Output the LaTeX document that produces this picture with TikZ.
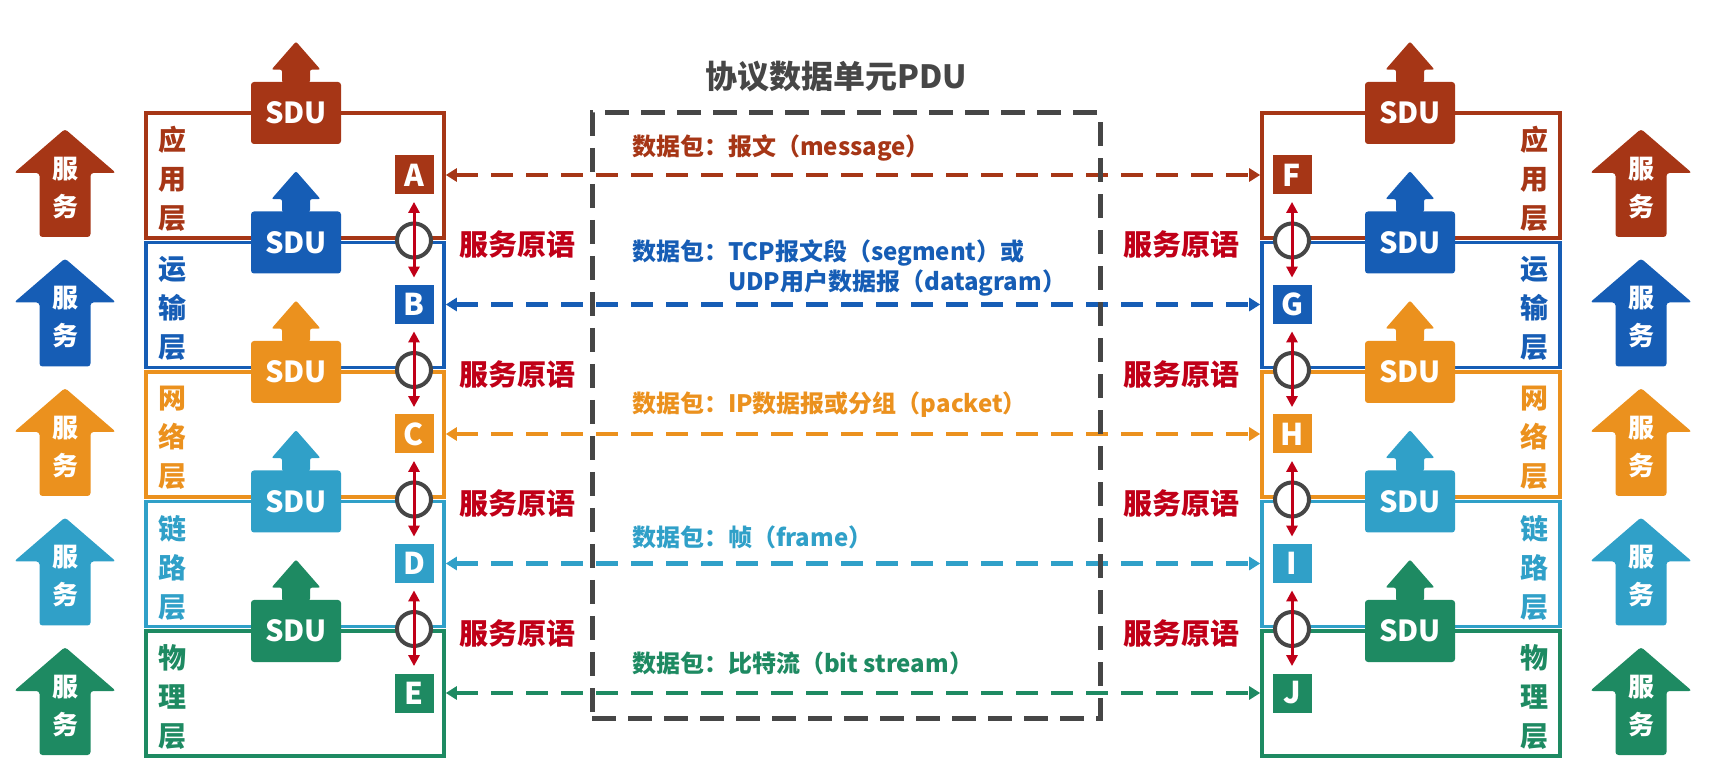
\documentclass[tikz,border=0pt]{standalone}
\usepackage{fontspec}
\setmainfont{Noto Sans CJK SC}
\usetikzlibrary{arrows.meta,positioning,calc}

\definecolor{appc}{RGB}{166,54,22}
\definecolor{tranc}{RGB}{22,93,181}
\definecolor{netc}{RGB}{235,145,30}
\definecolor{linkc}{RGB}{48,160,200}
\definecolor{phyc}{RGB}{30,138,98}
\definecolor{primc}{RGB}{192,0,24}
\definecolor{pduc}{RGB}{70,70,70}

\begin{document}
\begin{tikzpicture}[x=0.5pt, y=-0.5pt,
    layerbox/.style={draw, line width=1.8pt, minimum width=149pt, minimum height=62.5pt, inner sep=0pt},
    sdubox/.style={rounded corners=1.5pt, minimum width=45pt, minimum height=31pt, inner sep=0pt,
                   text=white, font=\fontsize{14.5pt}{16pt}\selectfont\bfseries},
    peer/.style={minimum size=19.5pt, inner sep=0pt, text=white, font=\fontsize{15pt}{16pt}\selectfont\bfseries},
    jn/.style={circle, draw=pduc, line width=2pt, fill=white, minimum size=17pt, inner sep=0pt},
    layername/.style={align=center, font=\fontsize{14pt}{19.5pt}\selectfont\bfseries},
    svcname/.style={align=center, text=white, font=\fontsize{13pt}{19pt}\selectfont\bfseries},
    primlbl/.style={text=primc, font=\fontsize{14.5pt}{16pt}\selectfont\bfseries},
    datalbl/.style={anchor=west, align=left, font=\fontsize{12pt}{15pt}\selectfont\bfseries},
    pduarr/.style={{Triangle[length=5.5pt,width=6.5pt]}-{Triangle[length=5.5pt,width=6.5pt]}, line width=2.2pt,
                   dash pattern=on 11pt off 6.5pt},
    prim/.style={{Triangle[length=5.5pt,width=5.5pt]}-{Triangle[length=5.5pt,width=5.5pt]}, line width=1.5pt,
                 draw=primc, shorten <=3.5pt, shorten >=3.5pt}]
  \useasboundingbox (0,0) rectangle (1724,774);
  % one row per layer, left host and right host
  \foreach \i/\col/\lname/\lp/\rp in {0/appc/{应\\用\\层}/A/F, 1/tranc/{运\\输\\层}/B/G,
      2/netc/{网\\络\\层}/C/H, 3/linkc/{链\\路\\层}/D/I, 4/phyc/{物\\理\\层}/E/J}{
    \pgfmathsetmacro\T{113+129.5*\i}
    \pgfmathsetmacro\S{129+129.5*\i}
    \node[layerbox, draw=\col] (LB\i) at (295,\T+62.5) {};
    \node[layerbox, draw=\col] (RB\i) at (1411,\T+62.5) {};
    \node[layername, text=\col] (NL\i) at (172,\T+66) {\lname};
    \node[layername, text=\col] (NR\i) at (1534,\T+66) {\lname};
    % SDU passed up
    \node[sdubox, fill=\col] (DL\i) at (296,\T) {SDU};
    \node[sdubox, fill=\col] (DR\i) at (1410,\T) {SDU};
    \fill[\col, rounded corners=1pt] ($(DL\i.north)+(-14,1)$) -- ++(0,-13) -- ++(-10.5,0) -- ++(24.5,-28)
      -- ++(24.5,28) -- ++(-10.5,0) -- ++(0,13) -- cycle;
    \fill[\col, rounded corners=1pt] ($(DR\i.north)+(-14,1)$) -- ++(0,-13) -- ++(-10.5,0) -- ++(24.5,-28)
      -- ++(24.5,28) -- ++(-10.5,0) -- ++(0,13) -- cycle;
    % service arrows at the sides
    \fill[\col, rounded corners=1.5pt] (39.5,\S+108) -- (39.5,\S+44) -- (14,\S+44) -- (65,\S)
      -- (116,\S+44) -- (90.5,\S+44) -- (90.5,\S+108) -- cycle;
    \fill[\col, rounded corners=1.5pt] (1615.5,\S+108) -- (1615.5,\S+44) -- (1590,\S+44) -- (1641,\S)
      -- (1692,\S+44) -- (1666.5,\S+44) -- (1666.5,\S+108) -- cycle;
    \node[svcname] (SL\i) at (65,\S+59) {服\\务};
    \node[svcname] (SR\i) at (1641,\S+59) {服\\务};
    % peer entities
    \node[peer, fill=\col] (\lp) at (414,\T+62) {\lp};
    \node[peer, fill=\col] (\rp) at (1292,\T+62) {\rp};
    \draw[pduarr, \col] (LB\i.east |- \lp) -- (RB\i.west |- \rp);
  }
  % service access points between layers
  \foreach \i/\na/\nb/\nc/\nd in {1/A/B/F/G, 2/B/C/G/H, 3/C/D/H/I, 4/D/E/I/J}{
    \pgfmathsetmacro\T{113+129.5*\i}
    \node[jn] (JL\i) at (414,\T-2) {};
    \node[jn] (JR\i) at (1292,\T-2) {};
    \draw[prim] (\na) -- (\nb);
    \draw[prim] (\nc) -- (\nd);
    \node[primlbl] (PL\i) at (517,\T+2) {服务原语};
    \node[primlbl] (PR\i) at (1181,\T+2) {服务原语};
  }
  \node[draw=pduc, line width=2.5pt, dash pattern=on 12pt off 6pt, minimum width=254pt,
    minimum height=302.5pt, inner sep=0pt] (pdu) at (846,415.5) {};
  \node[text=pduc, font=\fontsize{16pt}{18pt}\selectfont\bfseries] (pdut) at (836,77) {协议数据单元PDU};
  \node[datalbl, text=appc] (m1) at (625,148) {数据包：报文（message）};
  \node[datalbl, text=tranc] (m2) at (625,268) {数据包：TCP报文段（segment）或\\
    \phantom{数据包：}UDP用户数据报（datagram）};
  \node[datalbl, text=netc] (m3) at (625,405) {数据包：IP数据报或分组（packet）};
  \node[datalbl, text=linkc] (m4) at (625,537) {数据包：帧（frame）};
  \node[datalbl, text=phyc] (m5) at (625,663) {数据包：比特流（bit stream）};
\end{tikzpicture}
\end{document}
